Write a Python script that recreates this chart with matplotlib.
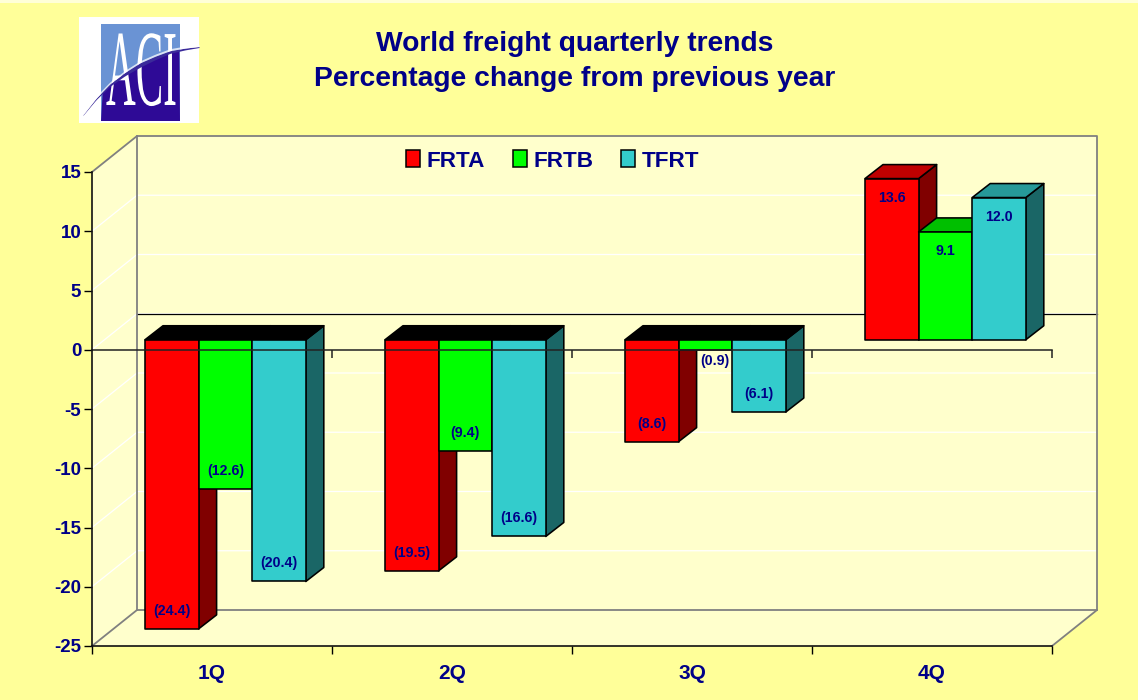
import numpy as np
import matplotlib
matplotlib.use("Agg")
import matplotlib.pyplot as plt
from matplotlib.patches import Polygon, Rectangle, Patch
from matplotlib.patheffects import AbstractPathEffect
from matplotlib.transforms import Affine2D

categories = ["1Q", "2Q", "3Q", "4Q"]
series_names = ["FRTA", "FRTB", "TFRT"]
frta = [-24.4, -19.5, -8.6, 13.6]
frtb = [-12.6, -9.4, -0.9, 9.1]
tfrt = [-20.4, -16.6, -6.1, 12.0]
y_ticks = [15, 10, 5, 0, -5, -10, -15, -20, -25]
title_lines = ["World freight quarterly trends", "Percentage change from previous year"]

NAVY = "#000088"
BG = "#FFFF99"
WALL = "#FFFFCC"
FACES = [("#FF0000", "#800000", "#BF0000"),
         ("#00FF00", "#008000", "#00BF00"),
         ("#33CCCC", "#1A6666", "#269999")]

plt.rcParams["font.family"] = ["Liberation Sans", "DejaVu Sans"]
W, H = 1138, 700
fig = plt.figure(figsize=(W / 100, H / 100), dpi=100, facecolor=BG)
fig.patches.append(Rectangle((0, 1 - 3 / H), 1, 3 / H, transform=fig.transFigure,
                             facecolor="#FFFFD8", edgecolor="none"))

L, R, T, B = 92, 1052, 172, 646
ax = fig.add_axes([L / W, 1 - B / H, (R - L) / W, (B - T) / H])
ax.set_xlim(0, len(categories))
ax.set_ylim(min(y_ticks), max(y_ticks))
ax.patch.set_visible(False)

px_x = len(categories) / (R - L)          # data units per pixel
px_y = (max(y_ticks) - min(y_ticks)) / (B - T)
wall_dx, wall_dy = 45 * px_x, 36 * px_y
ymin, ymax = min(y_ticks), max(y_ticks)
xmax = len(categories)
GREY = "#808080"


def poly(points, **kw):
    kw.setdefault("clip_on", False)
    ax.add_patch(Polygon(points, closed=True, **kw))


# walls and floor
poly([(0, ymin), (wall_dx, ymin + wall_dy), (wall_dx, ymax + wall_dy), (0, ymax)],
     facecolor=WALL, edgecolor="none", zorder=1)
poly([(0, ymin), (wall_dx, ymin + wall_dy), (xmax + wall_dx, ymin + wall_dy), (xmax, ymin)],
     facecolor=WALL, edgecolor="none", zorder=1)
poly([(wall_dx, ymin + wall_dy), (xmax + wall_dx, ymin + wall_dy),
      (xmax + wall_dx, ymax + wall_dy), (wall_dx, ymax + wall_dy)],
     facecolor=WALL, edgecolor="none", zorder=1)
for v in y_ticks:
    if v in (ymin, ymax):
        continue
    ax.plot([0, wall_dx, xmax + wall_dx], [v, v + wall_dy, v + wall_dy],
            color="white", lw=0.9, clip_on=False, zorder=1.2)
ax.plot([wall_dx, xmax + wall_dx], [wall_dy, wall_dy], color="black", lw=0.9,
        clip_on=False, zorder=1.3)
ax.plot([0, wall_dx, xmax + wall_dx, xmax + wall_dx, xmax],
        [ymax, ymax + wall_dy, ymax + wall_dy, ymin + wall_dy, ymin],
        color=GREY, lw=1.3, clip_on=False, zorder=1.4)
ax.plot([wall_dx, wall_dx], [ymax + wall_dy, ymin + wall_dy], color=GREY, lw=1.3,
        clip_on=False, zorder=1.4)
ax.plot([0, wall_dx, xmax + wall_dx], [ymin, ymin + wall_dy, ymin + wall_dy],
        color=GREY, lw=1.3, clip_on=False, zorder=1.4)

# bars
bar_w = 53.6 * px_x
bar_start = 53 * px_x
base = 10 * px_y
dx, dy = 18 * px_x, 14 * px_y
z = 3
for s, values in enumerate([frta, frtb, tfrt]):
    front, side, top = FACES[s]
    for c, v in enumerate(values):
        x0 = c + bar_start + s * bar_w
        x1 = x0 + bar_w
        low, high = sorted((base, base + v))
        ek = dict(edgecolor="black", lw=1.15, joinstyle="round", clip_on=False)
        poly([(x1, low), (x1 + dx, low + dy), (x1 + dx, high + dy), (x1, high)],
             facecolor=side, zorder=z, **ek)
        poly([(x0, high), (x1, high), (x1 + dx, high + dy), (x0 + dx, high + dy)],
             facecolor="black" if v < 0 else top, zorder=z, **ek)
        ax.add_patch(Rectangle((x0, low), bar_w, high - low, facecolor=front,
                               zorder=z + 0.1, **ek))
        txt = f"({abs(v):.1f})" if v < 0 else f"{v:.1f}"
        xc = (x0 + x1) / 2
        if v < 0:
            ty = low + 18 * px_y
        else:
            ty = high - 19 * px_y
        if abs(v) < 1:              # too short to hold its label
            ty = low - 11 * px_y
            xc += 9 * px_x
        ax.text(xc, ty, txt, ha="center", va="center", fontsize=10.2, fontweight="bold",
                color=NAVY, zorder=10, clip_on=False)
    z += 1

# zero axis over the bars
ax.plot([0, xmax], [0, 0], color="#222222", lw=1.1, zorder=8, clip_on=False)
ax.vlines(range(1, xmax + 1), -8 * px_y, 0, color="#222222", lw=1.1, zorder=8, clip_on=False)

# axes
for sp in ("top", "right"):
    ax.spines[sp].set_visible(False)
for sp in ("left", "bottom"):
    ax.spines[sp].set_linewidth(1.2)
    ax.spines[sp].set_color("#111111")
    ax.spines[sp].set_zorder(9)
ax.set_yticks(y_ticks)
ax.set_yticklabels([str(v) for v in y_ticks], fontsize=13.5, fontweight="bold", color=NAVY)
ax.tick_params(axis="y", length=5.8, width=1, pad=2)
ax.set_xticks(range(xmax + 1))
ax.set_xticklabels([])
ax.set_xticks(np.arange(xmax) + 0.5, minor=True)
ax.set_xticklabels(categories, minor=True, fontsize=15, fontweight="bold", color=NAVY)
ax.tick_params(axis="x", which="major", length=5.8, width=1)
ax.tick_params(axis="x", which="minor", length=0, pad=13)

# legend
handles = [Patch(facecolor=FACES[i][0], edgecolor="black", lw=1.1) for i in range(3)]
leg = fig.legend(handles, series_names, loc="center left", bbox_to_anchor=(406 / W, 1 - 161 / H),
                 ncol=3, frameon=False, handlelength=0.62, handleheight=0.75, handletextpad=0.3,
                 columnspacing=1.23, borderpad=0, borderaxespad=0,
                 prop={"size": 16.2, "weight": "bold"})
for t in leg.get_texts():
    t.set_color(NAVY)

# title
fig.text(574.5 / W, 1 - 44 / H, title_lines[0], ha="center", va="center", fontsize=20.3,
         fontweight="bold", color=NAVY)
fig.text(574.5 / W, 1 - 79 / H, title_lines[1], ha="center", va="center", fontsize=20.3,
         fontweight="bold", color=NAVY)


# logo, in its own pixel-sized axes
class CondenseX(AbstractPathEffect):
    def __init__(self, sx):
        super().__init__()
        self.sx = sx

    def draw_path(self, renderer, gc, tpath, affine, rgbFace=None):
        renderer.draw_path(gc, tpath, Affine2D().scale(self.sx, 1) + affine, rgbFace)


lg = fig.add_axes([79 / W, 1 - 123 / H, 120 / W, 106 / H])
lg.set_xlim(79, 199)
lg.set_ylim(123, 17)
lg.axis("off")
lg.add_patch(Rectangle((79, 17), 120, 106, facecolor="white", edgecolor="none", zorder=0))
lg.add_patch(Rectangle((101, 24), 79, 97, facecolor="#6A93D4", edgecolor="none", zorder=1))
xs = np.linspace(83, 199, 60)
curve = np.interp(xs, [83, 96, 110, 125, 140, 155, 170, 185, 199],
                  [115, 99, 85, 74, 65, 58, 52, 49, 47])
mask = (xs >= 101) & (xs <= 180)
lg.add_patch(Polygon(list(zip(xs[mask], curve[mask])) + [(180, 121), (101, 121)], closed=True,
                     facecolor="#2E0A96", edgecolor="none", zorder=2))
aci = lg.text(106, 105, "ACI", ha="left", va="baseline", fontsize=78, color="white",
              family="Liberation Serif", zorder=3)
aci.set_path_effects([CondenseX(0.38)])
thick = np.interp(xs, [83, 140, 199], [0.3, 2.2, 0.5])
lg.fill_between(xs, curve - thick, curve + thick, color="#3A2A9A", lw=0, zorder=4)
lg.fill_between(xs, curve - thick - 2, curve - thick, color="white", alpha=0.75, lw=0, zorder=4)

fig.savefig("out.png", dpi=100, facecolor=BG)
